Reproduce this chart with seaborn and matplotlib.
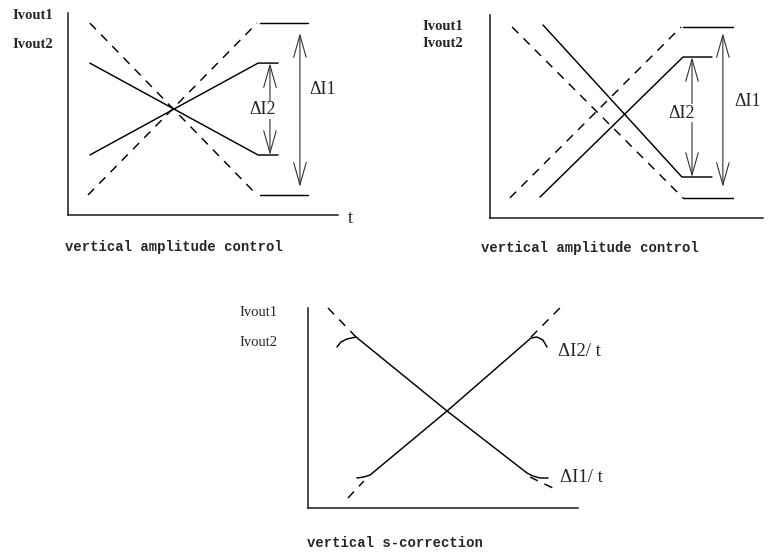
import matplotlib
matplotlib.use("Agg")
import matplotlib.pyplot as plt
import pandas as pd
import seaborn as sns

# Every panel uses its own 0..100 scale on both axes (t and Ivout, arbitrary units)

# --- panel A: vertical amplitude control (symmetric) ---
a_dash_dn_x = [8.1, 70.0]
a_dash_dn_y = [95.0, 9.9]
a_dash_up_x = [7.4, 70.0]
a_dash_up_y = [9.9, 95.0]
a_top_x = [71.1, 88.9]
a_top_y = [95.0, 95.0]
a_bot_x = [71.1, 88.9]
a_bot_y = [9.9, 9.9]
a_sol_dn_x = [8.1, 70.4, 77.8]
a_sol_dn_y = [75.2, 29.7, 29.7]
a_sol_up_x = [8.1, 70.4, 77.8]
a_sol_up_y = [29.7, 75.2, 75.2]
a_arrow_d2 = [74.8, 75.2, 29.7]   # x, top, bottom
a_arrow_d1 = [85.9, 90.1, 13.9]

# --- panel B: vertical amplitude control (shifted) ---
b_dash_dn_x = [8.1, 70.7]
b_dash_dn_y = [94.1, 9.9]
b_dash_up_x = [7.3, 70.0]
b_dash_up_y = [9.9, 94.1]
b_top_x = [70.7, 89.0]
b_top_y = [94.1, 94.1]
b_bot_x = [70.7, 89.0]
b_bot_y = [9.9, 9.9]
b_sol_dn_x = [19.4, 70.3, 81.3]
b_sol_dn_y = [95.1, 20.2, 20.2]
b_sol_up_x = [18.3, 70.7, 81.3]
b_sol_up_y = [10.3, 79.3, 79.3]
b_arrow_d2 = [74.0, 79.3, 20.2]
b_arrow_d1 = [85.3, 91.1, 15.3]

# --- panel C: vertical s-correction ---
c_dash_dn1_x = [7.4, 17.8]
c_dash_dn1_y = [100.0, 85.5]
c_dash_dn2_x = [82.2, 90.7]
c_dash_dn2_y = [15.5, 10.0]
c_dash_up1_x = [14.8, 20.7]
c_dash_up1_y = [5.0, 13.5]
c_dash_up2_x = [82.6, 93.3]
c_dash_up2_y = [85.5, 100.0]
c_sol_dn_x = [10.7, 12.2, 14.4, 17.8, 51.5, 81.1, 83.3, 85.9, 88.9]
c_sol_dn_y = [80.5, 83.0, 84.5, 85.5, 48.5, 17.5, 16.0, 15.0, 15.0]
c_sol_up_x = [18.1, 20.7, 23.0, 51.5, 82.6, 84.8, 87.0, 88.5]
c_sol_up_y = [15.0, 15.5, 16.5, 48.5, 85.0, 85.5, 84.0, 80.5]

SERIF = "Liberation Serif"
MONO = "Liberation Mono"


def add_box(fig, left, top, right, bottom):
    # pixel box of the axis lines -> figure fraction
    ax = fig.add_axes([left / 777, 1 - bottom / 555,
                       (right - left) / 777, (bottom - top) / 555])
    return ax


def draw_lines(ax, segments):
    rows = []
    for i, (xs, ys, kind) in enumerate(segments):
        for x, y in zip(xs, ys):
            rows.append({"x": x, "y": y, "seg": i, "kind": kind})
    df = pd.DataFrame(rows)
    sns.lineplot(data=df, x="x", y="y", units="seg", style="kind",
                 style_order=["solid", "dashed"],
                 dashes={"solid": "", "dashed": (6, 5)},
                 estimator=None, sort=False, color="black", lw=1.05,
                 legend=False, ax=ax)
    for line in ax.lines:
        line.set_clip_on(False)
    ax.set(xlim=(0, 100), ylim=(0, 100), xlabel="", ylabel="",
           xticks=[], yticks=[])
    sns.despine(ax=ax)
    for s in ("left", "bottom"):
        ax.spines[s].set_color("0.1")
        ax.spines[s].set_linewidth(1.1)
    ax.patch.set_alpha(0)


def double_arrow(ax, vals):
    x, top, bot = vals
    ax.annotate("", xy=(x, top), xytext=(x, bot),
                arrowprops=dict(arrowstyle="<->, head_length=1.6, head_width=0.45",
                                lw=0.8, color="0.2", shrinkA=0, shrinkB=0,
                                mutation_scale=10))


def ivout(ax, x, y1, y2, weight="bold"):
    for y, s in ((y1, "Ivout1"), (y2, "Ivout2")):
        ax.text(x, y, s, ha="left", va="center", fontsize=10.5,
                fontweight=weight, family=SERIF, clip_on=False)


def caption(ax, x, y, s):
    ax.text(x, y, s, ha="center", va="center", fontsize=10,
            fontweight="bold", family=MONO)


def main():
    sns.set_theme(style="white")
    fig = plt.figure(figsize=(7.77, 5.55), dpi=100)
    fig.patch.set_facecolor("white")

    # panel A
    ax = add_box(fig, 68, 13, 338, 215)
    draw_lines(ax, [
        (a_dash_dn_x, a_dash_dn_y, "dashed"),
        (a_dash_up_x, a_dash_up_y, "dashed"),
        (a_top_x, a_top_y, "solid"),
        (a_bot_x, a_bot_y, "solid"),
        (a_sol_dn_x, a_sol_dn_y, "solid"),
        (a_sol_up_x, a_sol_up_y, "solid"),
    ])
    double_arrow(ax, a_arrow_d2)
    double_arrow(ax, a_arrow_d1)
    ax.text(71.9, 52.0, "ΔI2", ha="center", va="center", fontsize=13,
            family=SERIF, bbox=dict(fc="white", ec="none", pad=0.5))
    ax.text(94.4, 61.9, "ΔI1", ha="center", va="center", fontsize=13, family=SERIF)
    ax.text(104.4, -1.5, "t", ha="center", va="center", fontsize=13, family=SERIF)
    ivout(ax, -20.7, 99.0, 84.2)
    caption(ax, 39.3, -15.8, "vertical amplitude control")

    # panel B
    ax = add_box(fig, 490, 15, 763, 218)
    draw_lines(ax, [
        (b_dash_dn_x, b_dash_dn_y, "dashed"),
        (b_dash_up_x, b_dash_up_y, "dashed"),
        (b_top_x, b_top_y, "solid"),
        (b_bot_x, b_bot_y, "solid"),
        (b_sol_dn_x, b_sol_dn_y, "solid"),
        (b_sol_up_x, b_sol_up_y, "solid"),
    ])
    double_arrow(ax, b_arrow_d2)
    double_arrow(ax, b_arrow_d1)
    ax.text(70.3, 51.7, "ΔI2", ha="center", va="center", fontsize=13,
            family=SERIF, bbox=dict(fc="white", ec="none", pad=0.5))
    ax.text(94.5, 57.6, "ΔI1", ha="center", va="center", fontsize=13, family=SERIF)
    ivout(ax, -24.9, 94.1, 86.2)
    caption(ax, 36.6, -14.8, "vertical amplitude control")

    # panel C
    ax = add_box(fig, 308, 308, 578, 508)
    draw_lines(ax, [
        (c_dash_dn1_x, c_dash_dn1_y, "dashed"),
        (c_dash_dn2_x, c_dash_dn2_y, "dashed"),
        (c_dash_up1_x, c_dash_up1_y, "dashed"),
        (c_dash_up2_x, c_dash_up2_y, "dashed"),
        (c_sol_dn_x, c_sol_dn_y, "solid"),
        (c_sol_up_x, c_sol_up_y, "solid"),
    ])
    ax.text(92.6, 78.0, "ΔI2/ t", ha="left", va="center", fontsize=13.5, family=SERIF)
    ax.text(93.3, 15.5, "ΔI1/ t", ha="left", va="center", fontsize=13.5, family=SERIF)
    ivout(ax, -25.2, 98.0, 83.0, weight="normal")
    caption(ax, 32.2, -17.5, "vertical s-correction")

    fig.savefig("out.png", dpi=100, facecolor="white")
    plt.close(fig)


if __name__ == "__main__":
    main()
